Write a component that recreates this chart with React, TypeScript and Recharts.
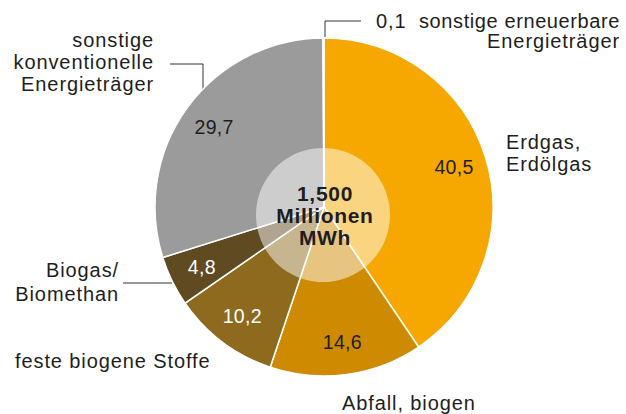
import React from "react";
import { PieChart, Pie, Cell } from "recharts";

const categories = [
  "Erdgas, Erdölgas",
  "Abfall, biogen",
  "feste biogene Stoffe",
  "Biogas/ Biomethan",
  "sonstige konventionelle Energieträger",
  "sonstige erneuerbare Energieträger",
];
const shares = [40.5, 14.6, 10.2, 4.8, 29.7, 0.1];
const sliceColors = ["#F6A800", "#CE8A00", "#8E6A1F", "#5F4A22", "#9B9B9B", "#C8C8C8"];
const labelColors = ["#1e1e1e", "#1e1e1e", "#ffffff", "#ffffff", "#1e1e1e", "#1e1e1e"];
const totalLines = ["1,500", "Millionen", "MWh"];

const data = categories.map((name, i) => ({ name, value: shares[i] }));
const overlay = [{ name: "total", value: 1 }];

const FONT = "'Liberation Sans', Arial, sans-serif";
const TXT = "#1e1e1e";
const RAD = Math.PI / 180;

const fmt = (v: number) => v.toFixed(1).replace(".", ",");

const renderInner = (p: any) => {
  const { cx, cy, midAngle, index, value } = p;
  if (index === 5) return null;
  const r = 136;
  const x = cx + r * Math.cos(-midAngle * RAD);
  const y = cy + r * Math.sin(-midAngle * RAD);
  return (
    <text
      key={`lbl-${index}`}
      x={x}
      y={y}
      textAnchor="middle"
      dominantBaseline="central"
      fill={labelColors[index]}
      fontSize={19.5}
      letterSpacing={0.3}
      fontFamily={FONT}
    >
      {fmt(value)}
    </text>
  );
};

const renderTotal = (p: any) => {
  const { cx, cy } = p;
  return (
    <g key="total">
      {totalLines.map((t, i) => (
        <text
          key={t}
          x={cx + 2}
          y={cy - 14 + i * 22}
          textAnchor="middle"
          fontFamily={FONT}
          fontWeight="bold"
          fontSize={21}
          letterSpacing={0.7}
          fill={TXT}
        >
          {t}
        </text>
      ))}
    </g>
  );
};

const T = (props: any) => (
  <text fontFamily={FONT} fontSize={20} letterSpacing={0.9} fill={TXT} {...props} />
);

export default function App() {
  return (
    <div style={{ position: "absolute", left: 0, top: 0, background: "#fff" }}>
      <PieChart width={626} height={414} margin={{ top: 0, right: 0, bottom: 0, left: 0 }}>
        <g>
          <polyline points="325,37 325,21 361,21" fill="none" stroke="#333" strokeWidth={1} />
          <polyline points="170,64 203,64 203,90" fill="none" stroke="#333" strokeWidth={1} />
          <line x1={123} y1={283} x2={172} y2={283} stroke="#333" strokeWidth={1} />
          <T x={376} y={28}>0,1</T>
          <T x={620} y={28} textAnchor="end" letterSpacing={0.6}>sonstige erneuerbare</T>
          <T x={620} y={48} textAnchor="end">Energieträger</T>
          <T x={154} y={47} textAnchor="end">sonstige</T>
          <T x={154} y={69} textAnchor="end">konventionelle</T>
          <T x={154} y={91} textAnchor="end">Energieträger</T>
          <T x={506} y={149}>Erdgas,</T>
          <T x={506} y={171}>Erdölgas</T>
          <T x={119} y={277} textAnchor="end">Biogas/</T>
          <T x={119} y={301} textAnchor="end">Biomethan</T>
          <T x={15} y={368}>feste biogene Stoffe</T>
          <T x={342} y={410}>Abfall, biogen</T>
        </g>
        <Pie
          data={data}
          dataKey="value"
          cx={324}
          cy={207}
          outerRadius={169}
          startAngle={90}
          endAngle={-270}
          stroke="#ffffff"
          strokeWidth={1.5}
          isAnimationActive={false}
          labelLine={false}
          label={renderInner}
        >
          {data.map((d, i) => (
            <Cell key={d.name} fill={sliceColors[i]} />
          ))}
        </Pie>
        <Pie
          data={overlay}
          dataKey="value"
          cx={323}
          cy={215}
          outerRadius={67}
          fill="#ffffff"
          fillOpacity={0.5}
          stroke="none"
          isAnimationActive={false}
          labelLine={false}
          label={renderTotal}
        />
      </PieChart>
    </div>
  );
}
